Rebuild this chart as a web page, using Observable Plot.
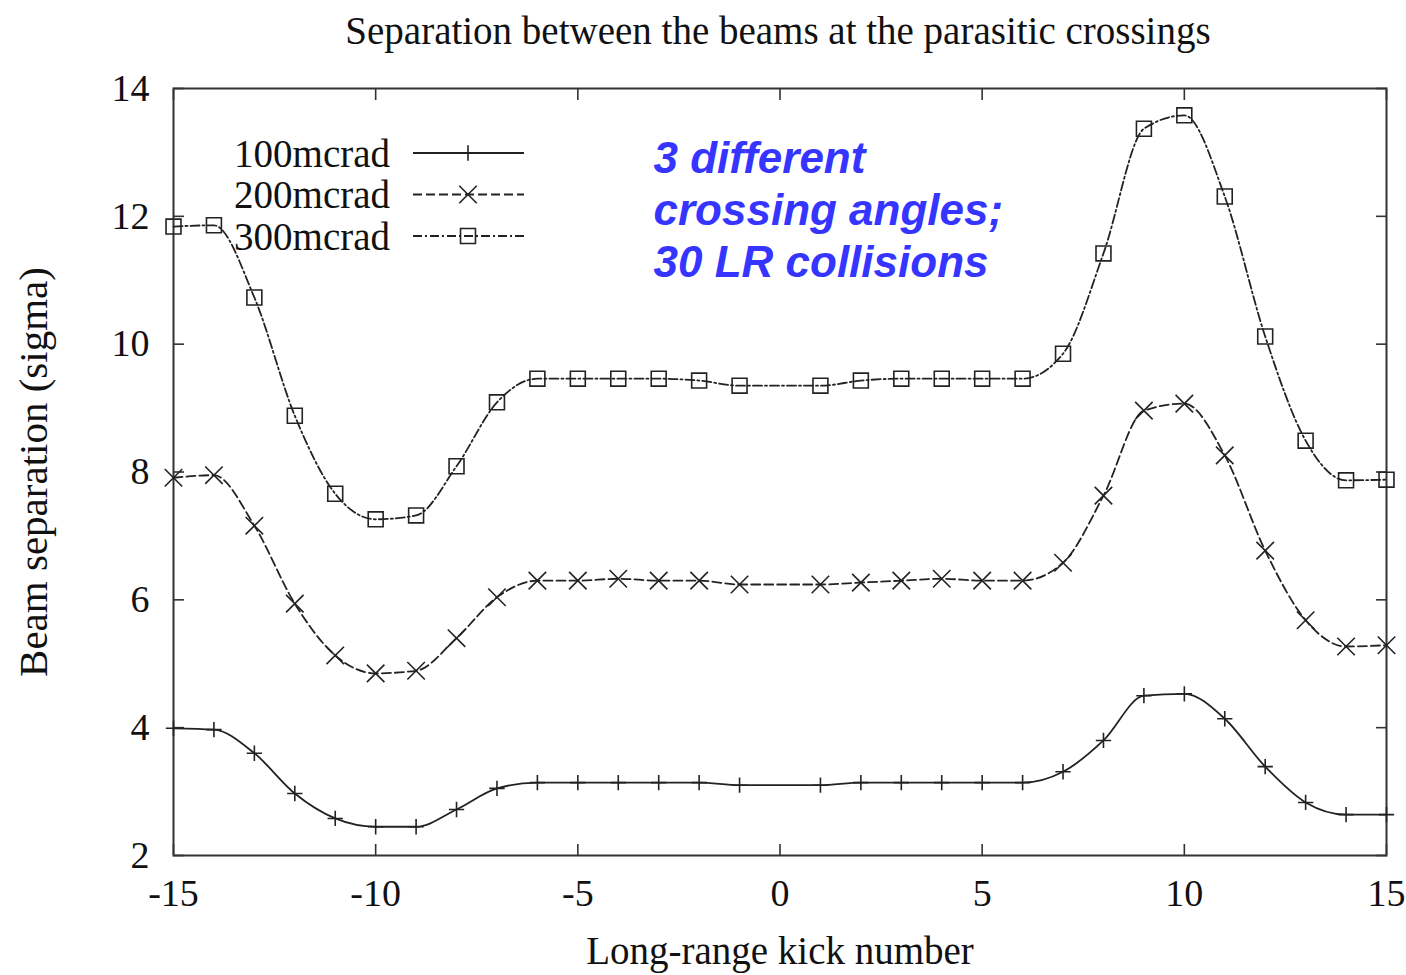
<!DOCTYPE html>
<html>
<head>
<meta charset="utf-8">
<script src="https://cdn.jsdelivr.net/npm/d3@7"></script>
<script src="https://cdn.jsdelivr.net/npm/@observablehq/plot@0.6"></script>
<style>
  html, body { margin: 0; padding: 0; background: #fff; }
  body { width: 1406px; height: 975px; overflow: hidden; position: relative; font-family: "Liberation Serif", serif; }
  #title { height: 62px; line-height: 62px; text-align: center; font-size: 39px; color: #111; padding-left: 150px; box-sizing: border-box; }
  #legend { position: absolute; left: 0; top: 0; pointer-events: none; }
</style>
</head>
<body>
<div id="title">Separation between the beams at the parasitic crossings</div>
<div id="chart"></div>
<svg id="legend" width="1406" height="975"></svg>
<script>
// Long-range kick numbers (no kick at 0)
const kicks = [-15,-14,-13,-12,-11,-10,-9,-8,-7,-6,-5,-4,-3,-2,-1,1,2,3,4,5,6,7,8,9,10,11,12,13,14,15];
const sep100 = [3.99,3.97,3.60,2.97,2.58,2.45,2.45,2.72,3.05,3.14,3.14,3.14,3.14,3.14,3.10,3.10,3.14,3.14,3.14,3.14,3.14,3.31,3.80,4.50,4.53,4.14,3.39,2.83,2.64,2.64];
const sep200 = [7.91,7.95,7.16,5.94,5.13,4.85,4.89,5.40,6.04,6.30,6.30,6.33,6.30,6.30,6.24,6.24,6.27,6.30,6.33,6.30,6.30,6.58,7.63,8.96,9.07,8.26,6.77,5.68,5.27,5.29];
const sep300 = [11.84,11.86,10.73,8.88,7.66,7.26,7.32,8.09,9.09,9.46,9.46,9.46,9.46,9.43,9.35,9.35,9.43,9.46,9.46,9.46,9.46,9.85,11.42,13.37,13.58,12.31,10.12,8.49,7.87,7.88];
const seriesNames = ["100mcrad", "200mcrad", "300mcrad"];
const xTicks = [-15,-10,-5,0,5,10,15];
const yTicks = [2,4,6,8,10,12,14];
const annotation = ["3 different", "crossing angles;", "30 LR collisions"];

const styles = {
  "100mcrad": {dash: null, symbol: "plus", r: 5},
  "200mcrad": {dash: "9,4", symbol: "times", r: 8},
  "300mcrad": {dash: "9,3,2,3", symbol: "square2", r: 9.5}
};
const ink = "#222";
const seriesValues = [sep100, sep200, sep300];
const rows = [];
seriesNames.forEach((name, i) => kicks.forEach((k, j) => rows.push({series: name, kick: k, sep: seriesValues[i][j]})));

const font = '"Liberation Serif", serif';
const marks = [];
seriesNames.forEach(name => {
  const d = rows.filter(r => r.series === name);
  marks.push(Plot.line(d, {x: "kick", y: "sep", curve: "monotone-x", stroke: ink, strokeWidth: 1.8, strokeDasharray: styles[name].dash}));
  marks.push(Plot.dot(d, {x: "kick", y: "sep", symbol: () => styles[name].symbol, r: styles[name].r, stroke: ink, strokeWidth: 1.6, fill: "none"}));
});

const blank = () => "";
const plot = Plot.plot({
  width: 1406,
  height: 913,
  marginTop: 26,
  marginBottom: 120,
  marginLeft: 173,
  marginRight: 20,
  style: {fontFamily: font, fontSize: "38px", color: "#111", background: "#fff"},
  x: {domain: [-15, 15], ticks: xTicks, tickFormat: d => String(d)},
  y: {domain: [2, 14], ticks: yTicks, tickFormat: d => String(d)},
  symbol: {type: "identity"},
  marks: [
    Plot.frame({stroke: "#333", strokeWidth: 2}),
    // inward ticks on all four sides
    Plot.axisX(xTicks, {anchor: "bottom", tickSize: -11, tickFormat: blank, label: null, stroke: "#333", strokeWidth: 1.6}),
    Plot.axisX(xTicks, {anchor: "top", tickSize: -11, tickFormat: blank, label: null, stroke: "#333", strokeWidth: 1.6}),
    Plot.axisY(yTicks, {anchor: "left", tickSize: -11, tickFormat: blank, label: null, stroke: "#333", strokeWidth: 1.6}),
    Plot.axisY(yTicks, {anchor: "right", tickSize: -11, tickFormat: blank, label: null, stroke: "#333", strokeWidth: 1.6}),
    // tick labels
    Plot.axisX(xTicks, {anchor: "bottom", tickSize: 0, tickPadding: 24, tickFormat: d => String(d), label: null, fontSize: 38}),
    Plot.axisY(yTicks, {anchor: "left", tickSize: 0, tickPadding: 24, tickFormat: d => String(d), label: null, fontSize: 38}),
    // axis titles
    Plot.text(["Beam separation (sigma)"], {frameAnchor: "left", dx: -140, rotate: -90, fontSize: 41, fill: "#111", textAnchor: "middle"}),
    Plot.text(["Long-range kick number"], {frameAnchor: "bottom", dy: 96, fontSize: 39, fill: "#111", textAnchor: "middle", lineAnchor: "middle"}),
    // annotation
    Plot.text([annotation.join("\n")], {frameAnchor: "top-left", dx: 480, dy: 48, lineAnchor: "top", lineHeight: 1.18, textAnchor: "start",
      fontFamily: '"Liberation Sans", Arial, sans-serif', fontWeight: "bold", fontStyle: "italic", fontSize: 44, fill: "#3535ff"}),
    ...marks
  ]
});
document.getElementById("chart").appendChild(plot);

// Legend (inside plot area, top-left) built from the series arrays
const leg = d3.select("#legend");
const legTop = 153, legStep = 41.5;
seriesNames.forEach((name, i) => {
  const y = legTop + i * legStep;
  leg.append("text").attr("x", 390).attr("y", y).attr("dy", "0.35em").attr("text-anchor", "end")
    .attr("font-family", font).attr("font-size", 39).attr("fill", "#111").text(name);
  leg.append("line").attr("x1", 413).attr("x2", 524).attr("y1", y).attr("y2", y)
    .attr("stroke", ink).attr("stroke-width", 1.8).attr("stroke-dasharray", styles[name].dash);
  const r = styles[name].r;
  const sym = {plus: d3.symbolPlus, times: d3.symbolTimes, square2: d3.symbolSquare2}[styles[name].symbol];
  leg.append("path").attr("transform", `translate(468,${y})`).attr("d", d3.symbol(sym, r * r * Math.PI)())
    .attr("stroke", ink).attr("stroke-width", 1.6).attr("fill", "none");
});
</script>
</body>
</html>
